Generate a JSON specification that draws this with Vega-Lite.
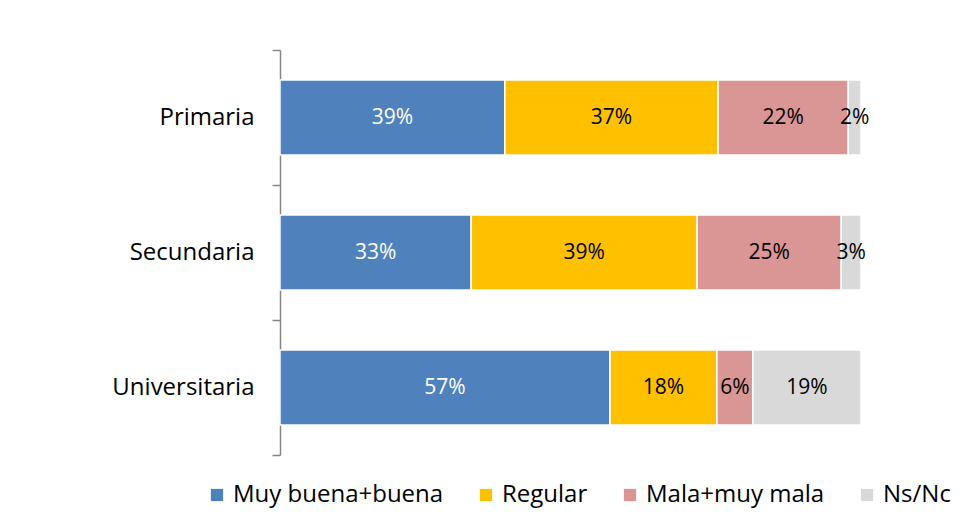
{
  "$schema": "https://vega.github.io/schema/vega-lite/v6.json",
  "width": 581,
  "height": 405,
  "autosize": "none",
  "padding": {"left": 280, "top": 50, "right": 109, "bottom": 67},
  "background": "white",
  "config": {"view": {"stroke": null}},
  "data": {"values": [
    {"nivel": "Primaria", "cat": "Muy buena+buena", "orden": 0, "value": 38.7},
    {"nivel": "Primaria", "cat": "Regular", "orden": 1, "value": 36.7},
    {"nivel": "Primaria", "cat": "Mala+muy mala", "orden": 2, "value": 22.4},
    {"nivel": "Primaria", "cat": "Ns/Nc", "orden": 3, "value": 2.2},
    {"nivel": "Secundaria", "cat": "Muy buena+buena", "orden": 0, "value": 32.9},
    {"nivel": "Secundaria", "cat": "Regular", "orden": 1, "value": 38.9},
    {"nivel": "Secundaria", "cat": "Mala+muy mala", "orden": 2, "value": 24.8},
    {"nivel": "Secundaria", "cat": "Ns/Nc", "orden": 3, "value": 3.4},
    {"nivel": "Universitaria", "cat": "Muy buena+buena", "orden": 0, "value": 56.8},
    {"nivel": "Universitaria", "cat": "Regular", "orden": 1, "value": 18.4},
    {"nivel": "Universitaria", "cat": "Mala+muy mala", "orden": 2, "value": 6.2},
    {"nivel": "Universitaria", "cat": "Ns/Nc", "orden": 3, "value": 18.6}
  ]},
  "transform": [
    {"stack": "value", "groupby": ["nivel"], "sort": [{"field": "orden"}], "as": ["v0", "v1"]},
    {"calculate": "(datum.v0 + datum.v1) / 2", "as": "vm"},
    {"calculate": "format(datum.value, '.0f') + '%'", "as": "lab"}
  ],
  "encoding": {
    "y": {
      "field": "nivel", "type": "nominal",
      "sort": ["Primaria", "Secundaria", "Universitaria"],
      "scale": {"paddingInner": 0, "paddingOuter": 0},
      "axis": {
        "title": null, "domainColor": "#868686", "domainWidth": 1.5,
        "tickColor": "#868686", "tickSize": 8, "tickWidth": 1.5, "tickBand": "extent",
        "labelFontSize": 24, "labelFont": "Open Sans", "labelColor": "black", "labelPadding": 18
      }
    }
  },
  "layer": [
    {
      "mark": {"type": "bar", "stroke": "white", "strokeWidth": 1.5, "height": {"band": 0.556}},
      "encoding": {
        "x": {"field": "v0", "type": "quantitative", "scale": {"domain": [0, 100]}, "axis": null},
        "x2": {"field": "v1"},
        "color": {
          "field": "cat", "type": "nominal",
          "scale": {"domain": ["Muy buena+buena", "Regular", "Mala+muy mala", "Ns/Nc"], "range": ["#4F81BD", "#FFC000", "#D99694", "#D9D9D9"]},
          "legend": {
            "title": null, "orient": "none", "legendX": -75, "legendY": 433,
            "direction": "horizontal", "symbolType": "square", "symbolSize": 150,
            "labelFontSize": 24, "labelFont": "Open Sans", "labelColor": "black", "labelLimit": 0,
            "columnPadding": 30, "labelOffset": 4, "symbolStrokeWidth": 0
          }
        }
      }
    },
    {
      "mark": {"type": "text", "fontSize": 21, "font": "Open Sans"},
      "encoding": {
        "x": {"field": "vm", "type": "quantitative"},
        "text": {"field": "lab"},
        "color": {"condition": {"test": "datum.cat === 'Muy buena+buena'", "value": "white"}, "value": "black"}
      }
    }
  ]
}
